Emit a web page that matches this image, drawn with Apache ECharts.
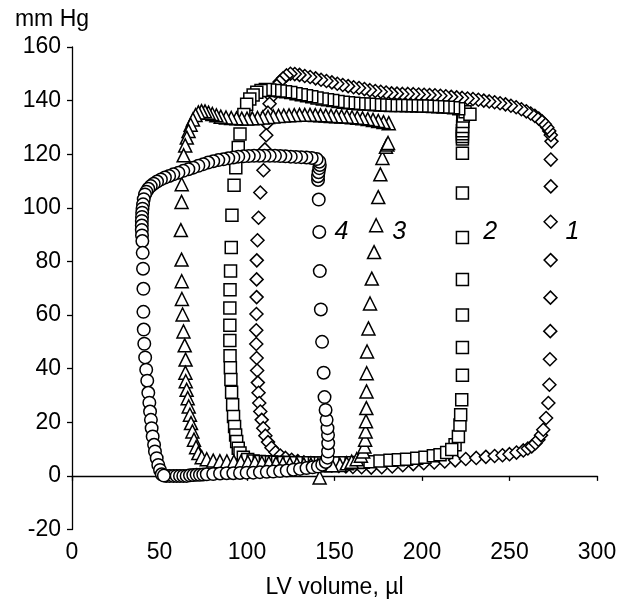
<!DOCTYPE html>
<html>
<head>
<meta charset="utf-8">
<title>LV pressure-volume loops</title>
<script src="https://cdn.jsdelivr.net/npm/echarts@6/dist/echarts.min.js"></script>
<style>
  html, body { margin: 0; padding: 0; background: #fff; }
  #chart { width: 630px; height: 601px; }
</style>
</head>
<body>
<div id="chart"></div>
<script>
// [LV volume (µl), pressure (mm Hg)], one array per loop

// loop 1 - diamonds
const loop1 = [
  [272.8,34],[273.1,43.5],[273.3,54],[273.4,66.5],[273.5,80.5],[273.5,94.8],[273.6,108],[273.6,118],[274,124.8],
  [273.6,127.2],[272.7,128.7],[271.6,130],[270.2,131.2],[268.6,132.3],[266.7,133.3],[264.5,134.3],[262.1,135.2],[259.6,136],[256.8,136.8],[253.8,137.5],[250.8,138.1],[247.7,138.6],[244.6,139],[241.5,139.4],[238.4,139.7],[235.3,140],[232.2,140.3],[229.1,140.6],[226,140.8],[222.9,141],[219.8,141.2],[216.7,141.4],[213.6,141.6],[210.5,141.8],[207.4,142],[204.3,142.1],[201.2,142.2],[198.1,142.3],[195,142.4],[191.9,142.5],[188.8,142.5],[185.7,142.6],[182.6,142.7],[179.5,143],[176.4,143.3],[173.3,143.6],[170.2,143.9],[167.1,144.3],[164,144.7],[160.9,145],[157.8,145.4],[154.7,145.8],[151.6,146.3],[148.5,146.8],[145.4,147.3],[142.3,147.8],[139.2,148.3],[136.1,148.8],[133,149.2],[130,149.6],[127.3,149.9],[124.8,150],[122.6,149.4],[120.6,148.3],[118.7,147],[117,145.5],[115.4,143.6],[114,141.4],[112.9,138.8],[112,135.5],[111.3,131.5],
  [111,127.1],[110.2,121.8],[109.4,114],[107.6,105.7],[106.6,96.3],[106,87.9],[105.6,80.4],[105.5,73.3],[105.5,66.7],[105.4,60.4],[105.3,54.3],[105.3,49.2],[105.5,44],[105.8,39.3],[106.2,34.8],[106.6,31],[107,27.2],[107.6,24],[108.4,20.9],[109.3,17.8],[110.5,15],[112,12.6],[114,10.5],[116.3,8.8],[119,7.6],[122,6.7],[125.5,6],[129,5.5],[132.5,5.1],[136.5,4.8],[140.5,4.5],[144.5,4.2],[148.5,3.9],[152.5,3.7],[156.5,3.5],[160.5,3.3],
  [165.5,3.2],[171,3.1],[177,3.2],[183,3.5],[189,4],[195,4.4],[201,4.7],[207,5],[213,5.4],[219,5.8],[225,6.3],[231,6.7],[236.5,7.1],[241.5,7.4],[246,7.7],[250,8.1],[254,8.7],[257.9,9.5],[260.5,10.2],[262.7,11],[264.8,12.2],[266.5,13.5],[268,15.2],[269.3,17.2],[270.9,21.6],[272.2,27.2]
];

// loop 2 - squares
const loop2 = [
  [218.9,11.6],[220.8,14.7],[221.7,19],[222.1,22.8],[222.7,28.4],[223.1,37.5],[223.1,47.9],[223.1,60],[223.1,73.3],[223.1,88.9],[223.1,105.5],[223.1,120.4],[223.1,125.7],[223.1,126.6],[223.1,127.6],[223.1,128.8],[223.2,130.3],[223.3,132.2],[223.6,134.3],[224.6,135.8],[227.4,134.9],
  [221,137],[218,137.3],[215,137.5],[212,137.6],[209,137.7],[206,137.8],[203,137.9],[200,138],[197,138],[194,138.1],[191,138.1],[188,138.2],[185,138.2],[182,138.2],[179,138.3],[176,138.4],[173,138.5],[170,138.6],[167,138.7],[164,138.8],[161,139],[158,139.2],[155,139.4],[152,139.7],[149,140],[146,140.3],[143,140.6],[140,141],[137,141.4],[134,141.8],[131,142.2],[128,142.6],[125,143],[122,143.3],[119,143.6],[116,143.8],[113,144],[110.5,144.1],[108,143.8],[105.6,143.1],[103.5,142.1],[101.6,140.6],[99.8,138.6],[98.2,134.8],
  [96,127.5],[95,122.5],[93.6,115],[92.6,108.4],[91.4,97.2],[91,85.2],[90.6,76.4],[90.3,69.4],[90.2,62.6],[90.2,56.2],[90.2,50.5],[90.3,44.8],[90.5,40.3],[90.8,36],[91.2,31.2],[91.8,26.5],[92.3,22.2],[92.9,18.4],[93.5,15.3],[94.1,12.8],[95,10.3],[96,8.5],[97.9,7],[100.4,6.1],[103.5,5.6],
  [107,5.4],[110.5,5.3],[114,5.2],[117.5,5.1],[121,5],[124.5,5],[128,4.9],[131.5,4.9],[135,4.9],[138.5,4.8],[142,4.8],[145.5,4.8],[149,4.8],[152.5,4.8],[156,4.9],[159.5,4.9],[163,5],[166.5,5.1],[170.3,5.3],[176,5.6],[181.7,5.8],[186.5,6],[191.2,6.2],[197,6.6],[201.7,7],[206.5,7.5],[210.3,7.9],[214.1,8.7],[217,9.8]
];

// loop 3 - triangles
const loop3 = [
  [141.5,-0.6],
  [153.1,4.1],[157,4.7],[159.8,5.3],[162.7,6.2],[165.1,7.5],[166.4,9.1],[167.1,11],[167.5,13.5],[167.8,16.6],[168,20.4],[168.2,25.3],[168.3,31.5],[168.4,38.3],[168.6,46.4],[169.4,55],[170.3,64.3],[171.3,73.6],[172.6,83.5],[173.8,93.5],[175,104],[176.2,112.5],[177.4,118.6],[179.4,122.8],[180.2,123.6],[180.6,124.2],
  [181,131.6],[178,132],[175,132.4],[172,132.8],[169,133.1],[166,133.4],[163,133.6],[160,133.8],[157,134],[154,134.1],[151,134.2],[148,134.3],[145,134.4],[142,134.5],[139,134.6],[136,134.7],[133,134.7],[130,134.7],[127,134.6],[124,134.5],[121,134.4],[118,134.3],[115,134.1],[112,133.9],[109,133.7],[106,133.5],[103,133.4],[100,133.3],[97,133.3],[94,133.4],[91,133.5],[88,133.7],[85,134],[82.5,134.5],[80.2,135],[78,135.5],[76,136],[74,136.1],[72.2,135.6],[70.6,134.6],[69.1,133],[67.8,131],[66.6,128.7],[65.6,126.2],[64.7,123.3],[63.8,119.6],
  [62.7,108.8],[62.6,102.2],[62.2,91.7],[62.6,80.7],[62.7,72.6],[62.8,66],[63.2,60.2],[63.7,53.9],[64.4,48.7],[64.9,43.4],[64.8,38.5],[65,35.3],[65.5,32.1],[66.1,29],[66.7,25.9],[67.4,22.8],[68,19.7],[68.8,16.6],[69.7,13.5],[70.9,10.7],[72.2,8.5],[74.1,7],[77,6.2],[80.7,5.7],
  [84.5,5.5],[88.5,5.4],[92.5,5.3],[96.5,5.2],[100.5,5.1],[104.5,5],[108.5,4.9],[112.5,4.8],[116.5,4.7],[120.5,4.6],[124.5,4.5],[128.5,4.4],[132.5,4.3],[136.5,4.2],[140.5,4.1],[144.5,4],[148.5,4]
];

// loop 4 - circles
const loop4 = [
  [53.8,0],[55.8,0],[57.9,0],[59.8,0],[61.7,0],[63.6,0],[65.5,0],[67.4,0.2],[69.3,0.3],[71.2,0.4],[73.1,0.4],[75,0.5],[77,0.6],[80.7,0.7],[84.6,0.9],[88.4,1],[92.2,1],[96,1.1],[99.8,1.2],[103.6,1.2],[107.4,1.4],[111.3,1.5],[115,1.6],[118.9,1.8],[122.7,2],[126.5,2.3],[130.3,2.6],[134,2.9],[137.5,3.2],[140.5,3.5],[143,4.2],
  [145,5.2],[146,6.8],[146.3,9.1],[146.4,12.2],[146.3,15.3],[146,17.8],[145.5,20.9],[144.9,24.6],[144.3,29.4],[143.8,38.5],[142.9,50],[142.2,62.1],[141.6,76.4],[141.3,91],[141,103.1],[140.6,110.4],[140.6,111.8],[140.9,113.3],[141.3,114.8],[141.6,116],[141.3,117.2],
  [139.8,118.2],[137,118.6],[134,118.8],[131,118.9],[128,119],[125,119.1],[122,119.2],[119,119.3],[116,119.4],[113,119.4],[110,119.4],[107,119.4],[104,119.4],[101,119.3],[98,119.2],[95,119.1],[92.2,118.8],[89.3,118.5],[86.5,118.1],[83.6,117.8],[80.7,117.4],[77.8,116.9],[75,116.3],[72.2,115.7],[69.3,115],[66.5,114.4],[63.6,113.8],[60.8,113.1],[57.9,112.5],[55.5,111.9],[53.1,111.3],[50.8,110.6],[48.6,109.8],[46.7,109],[45,108.1],[43.6,107.1],[42.5,106],
  [41.7,105],[41,103.2],[40.6,101.3],[40.3,99.7],[40.1,98.2],[40,96.6],[39.9,95.1],[39.9,93.4],[39.9,91.7],[40,89.7],[40.2,87.6],[40.4,83.2],[40.6,77.3],[40.8,69.8],[40.8,61.2],[41,54.6],[41.3,49.3],[41.8,44.2],[42.4,39.6],[43,35.5],[43.6,31],[44.2,27.3],[44.6,24],[45.1,20.9],[45.5,17.8],[46.1,14.7],[46.9,11.6],[47.4,9.1],[48.4,6.6],[49.3,4.1],[50.3,2.2],[51.3,0.6],[52.5,0.1]
];

// curve numbers written next to each loop
const curveLabels = ["1", "2", "3", "4"];
const labelVolume = [286, 239, 187, 154];
const labelPressure = [91, 91, 91, 91];

// axis ranges
const xMin = 0, xMax = 300, xStep = 50;
const yMin = -20, yMax = 160, yStep = 20;

const font = "'Liberation Sans', Arial, sans-serif";

function loopSeries(name, symbol, size, data) {
  return {
    name: name,
    type: "scatter",
    symbol: symbol,
    symbolSize: size,
    data: data,
    itemStyle: {
      color: "#fff",
      borderColor: "#000",
      borderWidth: 1.5,
      opacity: 1,
    },
    emphasis: { disabled: true },
  };
}

let mychart = echarts.init(document.getElementById("chart"));
mychart.setOption({
  animation: false,
  textStyle: { fontFamily: font },
  grid: {
    left: 72,
    right: 33,
    top: 47,
    bottom: 71.5,
    containLabel: false,
    outerBoundsMode: "none",
  },
  xAxis: [
    {
      // axis line drawn through pressure 0
      type: "value",
      min: xMin,
      max: xMax,
      interval: xStep,
      axisLine: { onZero: true, lineStyle: { color: "#000", width: 1.3 } },
      axisTick: { show: true, length: 5, lineStyle: { color: "#000", width: 1.3 } },
      axisLabel: { show: false },
      splitLine: { show: false },
    },
    {
      // labels + title sit under the plot
      type: "value",
      position: "bottom",
      min: xMin,
      max: xMax,
      interval: xStep,
      axisLine: { show: false, onZero: false },
      axisTick: { show: false },
      axisLabel: { color: "#000", fontSize: 23, margin: 12, fontFamily: font },
      splitLine: { show: false },
      name: "LV volume, µl",
      nameLocation: "middle",
      nameGap: 47,
      nameTextStyle: { color: "#000", fontSize: 23, fontFamily: font },
    },
  ],
  yAxis: {
    type: "value",
    min: yMin,
    max: yMax,
    interval: yStep,
    axisLine: { show: true, onZero: false, lineStyle: { color: "#000", width: 1.3 } },
    axisTick: { show: true, length: 5, lineStyle: { color: "#000", width: 1.3 } },
    axisLabel: { color: "#000", fontSize: 23, margin: 11, fontFamily: font },
    splitLine: { show: false },
    name: "mm Hg",
    nameLocation: "end",
    nameGap: 16,
    nameTextStyle: { color: "#000", fontSize: 23, fontFamily: font, align: "center", padding: [0, 40, 0, 0] },
  },
  series: [
    loopSeries("1", "diamond", 13, loop1),
    loopSeries("2", "rect", 12, loop2),
    loopSeries("3", "triangle", 13, loop3),
    loopSeries("4", "circle", 12.5, loop4),
    {
      name: "labels",
      type: "scatter",
      symbolSize: 0,
      silent: true,
      itemStyle: { opacity: 1 },
      data: curveLabels.map((t, i) => [labelVolume[i], labelPressure[i], t]),
      label: {
        show: true,
        position: "inside",
        formatter: (p) => p.data[2],
        color: "#000",
        opacity: 1,
        fontSize: 25,
        fontStyle: "italic",
        fontFamily: font,
      },
    },
  ],
});
</script>
</body>
</html>
